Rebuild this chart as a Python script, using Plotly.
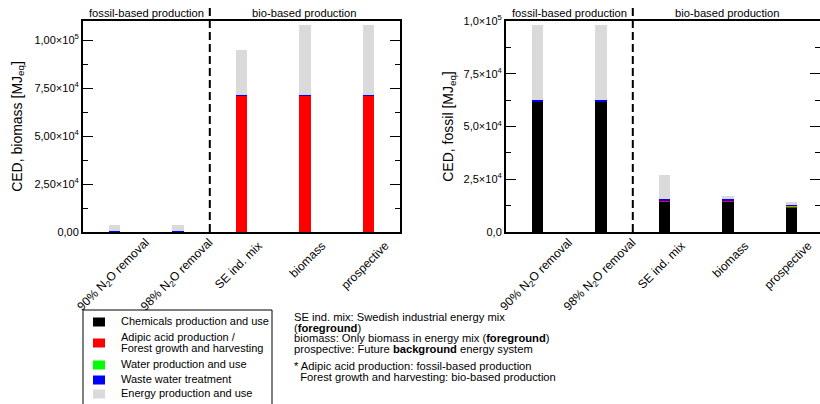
import plotly.graph_objects as go

# ---- data -------------------------------------------------------------
categories = ["90% N2O removal", "98% N2O removal", "SE ind. mix", "biomass", "prospective"]
tick_labels = ["90% N<sub>2</sub>O removal", "98% N<sub>2</sub>O removal",
               "SE ind. mix", "biomass", "prospective"]

contributors = ["Chemicals production and use",
                "Adipic acid production /<br>Forest growth and harvesting",
                "Water production and use",
                "Waste water treatment",
                "Energy production and use"]
colors = ["#000000", "#ff0000", "#00ff00", "#0000ff", "#dadada"]

# CED, biomass [MJ_eq]
biomass_chemicals = [150, 150, 200, 200, 200]
biomass_adipic_forest = [0, 0, 71000, 71000, 71000]
biomass_water = [50, 50, 100, 100, 100]
biomass_wastewater = [400, 400, 300, 300, 300]
biomass_energy = [3000, 3000, 23400, 36400, 36400]

# CED, fossil [MJ_eq]
fossil_chemicals = [62000, 62000, 14600, 14600, 11800]
fossil_adipic_forest = [0, 0, 500, 500, 150]
fossil_water = [50, 50, 50, 50, 500]
fossil_wastewater = [300, 300, 450, 450, 150]
fossil_energy = [35650, 35650, 11400, 1600, 1500]

left_ticks = [0, 25000, 50000, 75000, 100000]
left_ticktext = ["0,00", "2,50×10<sup>4</sup>", "5,00×10<sup>4</sup>",
                 "7,50×10<sup>4</sup>", "1,00×10<sup>5</sup>"]
left_minor = [12500, 37500, 62500, 87500]
right_ticks = [0, 25000, 50000, 75000, 100000]
right_ticktext = ["0,0", "2,5×10<sup>4</sup>", "5,0×10<sup>4</sup>",
                  "7,5×10<sup>4</sup>", "1,0×10<sup>5</sup>"]
right_minor = [12500, 37500, 62500, 87500]

notes = [
    "SE ind. mix: Swedish industrial energy mix",
    "(<b>foreground</b>)",
    "biomass: Only biomass in energy mix (<b>foreground</b>)",
    "prospective: Future <b>background</b> energy system",
    "* Adipic acid production: fossil-based production",
    "  Forest growth and harvesting: bio-based production",
]

# ---- figure -----------------------------------------------------------
W, H = 820, 404
FONT = "Liberation Sans, Arial, sans-serif"


def px_x(x):
    return x / W


def px_y(y):
    return 1 - y / H


fig = go.Figure()

left_series = [biomass_chemicals, biomass_adipic_forest, biomass_water,
               biomass_wastewater, biomass_energy]
right_series = [fossil_chemicals, fossil_adipic_forest, fossil_water,
                fossil_wastewater, fossil_energy]

for name, col, vals in zip(contributors, colors, left_series):
    fig.add_trace(go.Bar(x=categories, y=vals, name=name, marker_color=col,
                         marker_line_width=0, width=0.18,
                         xaxis="x", yaxis="y", showlegend=False))
for name, col, vals in zip(contributors, colors, right_series):
    fig.add_trace(go.Bar(x=categories, y=vals, name=name, marker_color=col,
                         marker_line_width=0, width=0.18,
                         xaxis="x2", yaxis="y2", showlegend=False))

# the N2O-removal labels (with subscripts) sit on their own overlay axis so
# they can be offset a little further than the plain labels; an empty trace
# keeps each overlay axis alive
n_sub = 2
for xa, ya in (("x3", "y"), ("x4", "y2")):
    fig.add_trace(go.Scatter(x=list(range(n_sub)), y=[None] * n_sub,
                             xaxis=xa, yaxis=ya, mode="markers",
                             showlegend=False, hoverinfo="skip"))

label_font = dict(size=12, family=FONT, color="black")
xcommon = dict(showline=True, linewidth=2, linecolor="black", mirror=True,
               ticks="", showgrid=False, zeroline=False, tickangle=-45,
               automargin=False, ticklabelshift=17,
               tickvals=categories[n_sub:], ticktext=tick_labels[n_sub:],
               tickfont=label_font)
xoverlay = dict(showline=False, ticks="", showgrid=False, zeroline=False,
                tickangle=-45, automargin=False, ticklabelshift=31,
                type="linear", side="bottom", tickmode="array",
                tickvals=list(range(n_sub)), ticktext=tick_labels[:n_sub],
                tickfont=label_font)
ycommon = dict(showline=True, linewidth=2, linecolor="black", mirror="ticks",
               ticks="inside", ticklen=10, tickwidth=1, tickcolor="black",
               showgrid=False, zeroline=False, automargin=False,
               tickfont=dict(size=11, family=FONT, color="black"))

plot_bottom, plot_top = px_y(232), px_y(21)
left_range = [-0.5, 4.5]
right_range = [-0.5, 4.5 - 3 / 63.4]

fig.update_layout(
    width=W, height=H,
    margin=dict(l=0, r=0, t=0, b=0, autoexpand=False),
    paper_bgcolor="white", plot_bgcolor="white",
    barmode="stack", showlegend=False,
    font=dict(family=FONT, color="black", size=11),
    xaxis=dict(domain=[px_x(83), px_x(400)], range=left_range,
               anchor="y", **xcommon),
    xaxis3=dict(overlaying="x", anchor="y", range=left_range, **xoverlay),
    yaxis=dict(domain=[plot_bottom, plot_top], range=[0, 110000], anchor="x",
               tickvals=left_ticks, ticktext=left_ticktext,
               minor=dict(tickvals=left_minor, ticklen=5, ticks="inside",
                          tickcolor="black", tickwidth=1),
               title=dict(text="CED, biomass [MJ<sub>eq</sub>]",
                          font=dict(size=14, family=FONT), standoff=9),
               **ycommon),
    xaxis2=dict(domain=[px_x(506), 1.0], range=right_range,
                anchor="y2", **xcommon),
    xaxis4=dict(overlaying="x2", anchor="y2", range=right_range, **xoverlay),
    yaxis2=dict(domain=[plot_bottom, plot_top], range=[0, 100000], anchor="x2",
                tickvals=right_ticks, ticktext=right_ticktext,
                minor=dict(tickvals=right_minor, ticklen=5, ticks="inside",
                           tickcolor="black", tickwidth=1),
                title=dict(text="CED, fossil [MJ<sub>eq</sub>]",
                           font=dict(size=14, family=FONT), standoff=7),
                **ycommon),
)

# divider between production routes, and the route headings
for xr in ("x", "x2"):
    fig.add_shape(type="line", xref=xr, yref="paper", x0=1.5, x1=1.5,
                  y0=plot_bottom, y1=px_y(8),
                  line=dict(color="black", width=2, dash="8px,4px"))
    fig.add_annotation(xref=xr, yref="paper", x=0.5, y=px_y(12.5),
                       text="fossil-based production", showarrow=False,
                       font=dict(size=11.2), xanchor="center", yanchor="middle")
    fig.add_annotation(xref=xr, yref="paper", x=3.0, y=px_y(12.5),
                       text="bio-based production", showarrow=False,
                       font=dict(size=11.2), xanchor="center", yanchor="middle")

# legend box
fig.add_shape(type="rect", xref="paper", yref="paper",
              x0=px_x(83), x1=px_x(272), y0=px_y(410), y1=px_y(310),
              line=dict(color="black", width=1), fillcolor="rgba(0,0,0,0)")
swatch_rows = [322, 343, 365, 380, 394]
text_rows = [[321], [337, 348], [364], [379], [393]]
for name, col, sy, rows in zip(contributors, colors, swatch_rows, text_rows):
    fig.add_shape(type="rect", xref="paper", yref="paper",
                  x0=px_x(93), x1=px_x(105), y0=px_y(sy + 4.5), y1=px_y(sy - 4.5),
                  line=dict(width=0), fillcolor=col)
    for part, ty in zip(name.split("<br>"), rows):
        fig.add_annotation(xref="paper", yref="paper", x=px_x(119), y=px_y(ty),
                           text=part, showarrow=False, align="left",
                           xanchor="left", yanchor="middle",
                           font=dict(size=11))

# explanatory notes
note_rows = [317, 327.5, 338, 348.5, 366, 376.5]
for txt, ny in zip(notes, note_rows):
    fig.add_annotation(xref="paper", yref="paper", x=px_x(292), y=px_y(ny),
                       text=txt.replace("  ", "&nbsp;&nbsp;"), showarrow=False,
                       xanchor="left", yanchor="middle", align="left",
                       font=dict(size=11.2))

fig.write_html("out.html")
